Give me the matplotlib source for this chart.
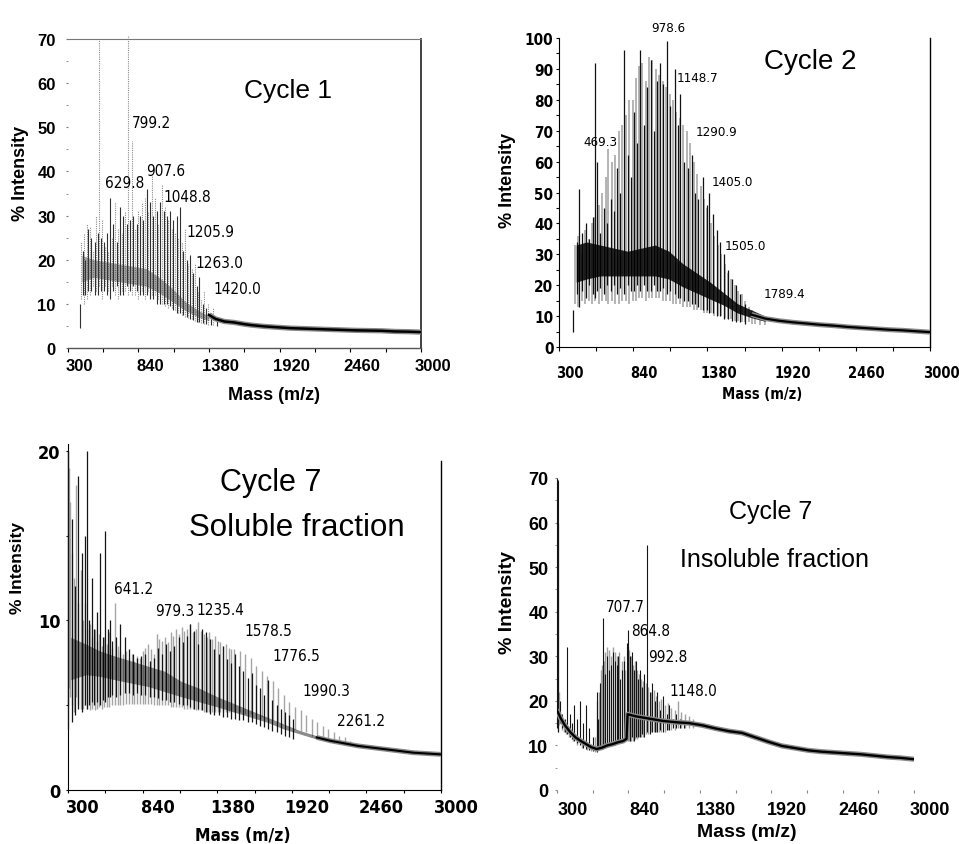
import matplotlib
matplotlib.use("Agg")
import matplotlib.pyplot as plt
from matplotlib.transforms import ScaledTranslation
from matplotlib.ticker import MultipleLocator, FixedLocator
from matplotlib import font_manager as fm
import warnings
warnings.filterwarnings("ignore")

W, H = 959, 845
ARIAL = ['Liberation Sans', 'DejaVu Sans']

xticks_major = [300, 840, 1380, 1920, 2460, 3000]
xtick_labels = ["300", "840", "1380", "1920", "2460", "3000"]

# ---------------- Cycle 1 ----------------
c1_grey_mz = [405, 425, 447, 470, 495, 518, 543, 561, 588, 612, 637, 663, 689, 714, 739, 765,
              790, 816, 841, 867, 893, 918, 943, 968, 994, 1024, 1048, 1071, 1096, 1121, 1146,
              1172, 1197, 1223, 1249, 1274, 1300, 1320, 1343, 1376, 1414]
c1_grey_top = [24, 26, 28, 27.5, 22, 30, 70, 29, 23, 22, 25, 33, 27, 26, 31, 71,
               47, 27, 31, 33, 34, 31, 39, 34, 28, 37, 32, 29, 27, 26, 25,
               24, 27, 19, 18, 19, 13, 11, 13, 10, 9]
c1_grey_bot = [11, 10, 11, 12, 14, 13, 14, 11, 14, 13, 14, 12, 11, 13, 13, 12,
               12, 12, 11, 13, 11, 13, 12, 12, 11, 10, 9.5, 9, 9, 8.5, 8,
               7.5, 7, 6.8, 6.5, 6.2, 5.9, 5.7, 5.5, 5.3, 5.1]
c1_black_mz = [395, 415, 437, 458, 482, 507, 530, 553, 575, 599, 625, 650, 676, 701, 727, 752,
               778, 803, 829, 854, 880, 905, 930, 956, 981, 1006, 1036, 1058, 1083, 1108, 1134,
               1159, 1184, 1210, 1236, 1261, 1287, 1307, 1333, 1356, 1395, 1440]
c1_black_top = [10, 22, 20, 27, 25, 24, 26, 25, 24, 26, 34, 28, 24, 32, 30, 28,
                29, 30, 28, 30, 29, 36, 33, 30, 31, 33, 31, 30, 31, 29, 30,
                32, 22, 20, 21, 17, 14, 16, 10, 9, 8, 7]
c1_black_bot = [4.5, 12, 12, 13, 13, 12, 12, 13, 13, 12, 11, 13, 14, 12, 12, 14,
                13, 14, 13, 12, 12, 12, 11, 11, 10, 10, 10, 10, 9.5, 8.5, 8,
                8, 7.5, 7, 6.5, 6.3, 6, 5.8, 5.6, 5.4, 5.2, 5.0]
c1_core_mz = [410, 500, 600, 700, 800, 900, 1000, 1100, 1200, 1300, 1380]
c1_core_low = [15, 16, 15.5, 15, 14.5, 14, 12.5, 10.5, 8.5, 7, 6.2]
c1_core_high = [21, 20, 19.5, 19, 18.5, 18, 16, 13.5, 10.5, 8.5, 7.2]
c1_tail_mz = [1380, 1430, 1500, 1570, 1650, 1700, 1800, 1900, 2000, 2100, 2200, 2300,
              2400, 2500, 2600, 2700, 2800, 2900, 3000]
c1_tail_y = [7.5, 6.6, 6.0, 5.8, 5.4, 5.2, 4.9, 4.7, 4.5, 4.4, 4.3, 4.2,
             4.1, 4.0, 3.95, 3.9, 3.75, 3.7, 3.6]
c1_labels = ["799.2", "629.8", "907.6", "1048.8", "1205.9", "1263.0", "1420.0"]

# ---------------- Cycle 2 ----------------
c2_grey_mz = [420, 440, 465, 490, 515, 540, 565, 590, 615, 640, 660, 685, 710, 735, 760, 785,
              810, 835, 860, 880, 905, 930, 955, 980, 1005, 1030, 1055, 1080, 1105, 1130,
              1155, 1180, 1205, 1230, 1255, 1280, 1305, 1330, 1355, 1380, 1405, 1430, 1455,
              1480, 1505, 1530, 1555, 1580, 1605, 1630, 1655, 1680, 1705, 1730, 1760, 1800]
c2_grey_top = [33, 36, 30, 38, 35, 40, 42, 46, 50, 55, 64, 60, 62, 70, 72, 75,
               80, 80, 87, 91, 92, 86, 94, 93, 90, 88, 86, 84, 82, 80,
               76, 74, 72, 70, 66, 60, 56, 52, 48, 45, 40, 36, 33,
               30, 27, 24, 22, 20, 18, 17, 15, 13, 12, 11, 10, 9]
c2_grey_bot = [14, 13, 15, 14, 15, 14, 15, 14, 15, 15, 14, 15, 14, 14, 15, 15,
               14, 15, 15, 16, 16, 15, 16, 16, 16, 16, 15, 15, 15, 14,
               14, 14, 13, 13, 13, 12, 12, 12, 11, 11, 11, 10, 10,
               10, 9.5, 9, 9, 8.5, 8.5, 8, 8, 8, 7.5, 7.5, 7.2, 7]
c2_black_mz = [404, 430, 445, 470, 495, 520, 545, 562, 574, 600, 625, 650, 675, 700, 720, 745,
               775, 800, 825, 846, 870, 890, 915, 940, 967, 990, 1010, 1035, 1055, 1084,
               1110, 1144, 1165, 1181, 1210, 1240, 1265, 1290, 1315, 1350, 1375, 1395, 1423,
               1450, 1475, 1500, 1530, 1560, 1590, 1620, 1650]
c2_black_top = [12, 34, 51, 37, 40, 35, 42, 92, 60, 37, 45, 40, 48, 44, 58, 50,
                96, 62, 55, 76, 66, 96, 72, 84, 93, 70, 86, 92, 85, 99,
                78, 90, 72, 82, 60, 58, 62, 50, 48, 55, 46, 50, 43,
                38, 34, 30, 25, 22, 20, 17, 14]
c2_black_bot = [5, 17, 13, 18, 16, 20, 17, 16, 18, 19, 17, 20, 18, 20, 17, 19,
                17, 20, 18, 18, 20, 18, 20, 18, 18, 20, 18, 18, 19, 17,
                18, 17, 16, 16, 15, 15, 14, 14, 13, 12, 12, 11, 11,
                10, 10, 9, 9, 8.5, 8, 8, 7.5]
c2_core_mz = [425, 500, 600, 700, 800, 900, 1000, 1100, 1200, 1300, 1400, 1500, 1600, 1700, 1800]
c2_core_low = [21, 22, 23, 23, 23, 23, 23, 22, 19.5, 17.5, 15.5, 13.5, 11, 9.5, 8.3]
c2_core_high = [33, 34, 33, 32, 31, 32, 33, 31, 27, 24, 21, 17.5, 14, 12, 10]
c2_tail_mz = [1700, 1800, 1900, 2000, 2100, 2200, 2300, 2400, 2500, 2600, 2700, 2800, 2900, 3000]
c2_tail_y = [10.5, 9.2, 8.5, 8.0, 7.6, 7.2, 6.9, 6.5, 6.2, 5.9, 5.6, 5.4, 5.1, 4.8]
c2_labels = ["978.6", "1148.7", "1290.9", "1405.0", "1505.0", "1789.4", "469.3"]

# ---------------- Cycle 7 soluble ----------------
c3_grey_mz = [300, 308, 318, 330, 345, 360, 375, 392, 410, 425, 440, 458, 475, 492, 510, 528,
              545, 562, 580, 598, 615, 640, 660, 680, 700, 720, 740, 760, 780, 800, 820, 840,
              860, 880, 900, 920, 942, 962, 982, 1002, 1022, 1042, 1062, 1082, 1102, 1122,
              1142, 1162, 1183, 1203, 1223, 1243, 1263, 1283, 1303, 1323, 1343, 1363, 1383,
              1403, 1423, 1443, 1463, 1483, 1503, 1543, 1583, 1623, 1663, 1703, 1743, 1783,
              1823, 1863, 1903, 1943, 1983, 2023, 2063, 2103, 2143, 2183, 2223, 2263, 2303, 2343]
c3_grey_top = [20, 19, 17, 14, 12.5, 18, 11, 13, 10, 11, 9.5, 9.8, 9, 9.5, 8.8, 9.2,
               8.5, 9, 8.6, 9.3, 8.4, 11, 8.5, 8.2, 8.0, 8.2, 7.8, 8.0, 7.6, 7.9, 7.8, 8.2,
               8.4, 8.6, 8.3, 8.0, 9.2, 8.9, 8.8, 9.0, 8.7, 9.3, 9.1, 9.5, 9.2, 9.6,
               9.4, 9.5, 9.8, 9.3, 9.5, 9.9, 9.4, 9.2, 9.0, 9.3, 8.9, 9.1, 8.8,
               8.7, 8.5, 8.6, 8.4, 8.3, 8.3, 8.2, 8.0, 7.8, 7.3, 7.0, 6.7, 6.4,
               6.0, 5.6, 5.2, 4.9, 4.7, 4.4, 4.2, 4.0, 3.8, 3.6, 3.4, 3.2, 3.1, 2.9]
c3_grey_bot = [5, 6, 5.5, 5, 4.6, 5.5, 5, 4.8, 4.8, 5, 4.8, 4.7, 4.8, 4.7, 4.8, 4.9,
               4.8, 4.9, 4.9, 4.9, 5, 5, 5, 5, 5, 5.1, 5.1, 5.1, 5.1, 5.1, 5.1, 5.1,
               5.1, 5.1, 5.1, 5.0, 5.0, 5.0, 5.0, 5.0, 5.0, 4.9, 4.9, 4.9, 4.9, 4.9,
               4.8, 4.8, 4.8, 4.8, 4.7, 4.7, 4.7, 4.6, 4.6, 4.6, 4.6, 4.6, 4.6,
               4.6, 4.6, 4.6, 4.6, 4.6, 4.6, 4.6, 4.5, 4.5, 4.4, 4.3, 4.2, 4.1,
               4.0, 3.9, 3.7, 3.6, 3.5, 3.4, 3.2, 3.1, 3.0, 2.95, 2.9, 2.8, 2.75, 2.7]
c3_black_mz = [302, 326, 352, 375, 399, 423, 440, 455, 471, 490, 510, 532, 550, 568, 586, 604,
               622, 650, 677, 713, 740, 770, 800, 830, 860, 890, 920, 950, 980, 1010, 1040,
               1070, 1100, 1130, 1160, 1183, 1210, 1240, 1270, 1300, 1330, 1360, 1390, 1420,
               1450, 1480, 1510, 1540, 1570, 1600, 1630, 1660, 1690, 1720, 1750, 1780, 1810,
               1840, 1870, 1900, 1930]
c3_black_top = [20, 16, 12, 18.5, 14, 15, 20, 10, 12.5, 9.5, 10.5, 14, 9, 15.3, 9.5, 10,
                8.8, 9, 9.8, 9, 8.3, 8.0, 7.8, 7.9, 8.0, 7.6, 7.8, 8.4, 8.0, 8.6, 8.2,
                8.5, 9.0, 8.7, 9.1, 9.8, 9.4, 8.6, 9.5, 9.3, 8.9, 8.3, 8.0, 8.5,
                7.7, 7.5, 8.0, 7.3, 7.0, 6.6, 6.9, 6.2, 6.0, 5.6, 6.5, 5.3, 5.0,
                4.8, 4.6, 4.4, 4.2]
c3_black_bot = [3.6, 4.0, 4.4, 4.8, 4.6, 5, 4.8, 5, 5.2, 5, 5.2, 5, 5.3, 5.2, 5.5, 5.5,
                5.6, 5.5, 5.6, 5.7, 5.7, 5.6, 5.7, 5.6, 5.6, 5.5, 5.5, 5.4, 5.3, 5.3, 5.2,
                5.2, 5.1, 5.0, 5.0, 4.9, 4.8, 4.8, 4.7, 4.6, 4.5, 4.4, 4.4, 4.3,
                4.3, 4.2, 4.2, 4.1, 4.1, 4.0, 4.0, 3.9, 3.8, 3.7, 3.6, 3.5, 3.4,
                3.3, 3.2, 3.1, 3.0]
c3_core_mz = [320, 430, 530, 640, 760, 880, 1000, 1120, 1250, 1380, 1500, 1620, 1740, 1860, 1980, 2100]
c3_core_low = [6.5, 6.8, 6.7, 6.5, 6.3, 6.1, 5.8, 5.5, 5.2, 4.9, 4.6, 4.3, 4.0, 3.6, 3.3, 3.0]
c3_core_high = [9.0, 8.6, 8.2, 7.9, 7.6, 7.3, 7.0, 6.4, 6.0, 5.5, 5.1, 4.7, 4.3, 3.9, 3.5, 3.2]
c3_tail_mz = [2100, 2200, 2300, 2400, 2500, 2600, 2700, 2800, 2900, 3000]
c3_tail_y = [3.1, 2.9, 2.75, 2.6, 2.5, 2.4, 2.3, 2.2, 2.15, 2.1]
c3_labels = ["641.2", "979.3", "1235.4", "1578.5", "1776.5", "1990.3", "2261.2"]

# ---------------- Cycle 7 insoluble ----------------
c4_grey_mz = [305, 318, 335, 352, 370, 390, 420, 455, 490, 530, 560, 590, 605, 618, 632, 640,
              652, 665, 680, 695, 710, 725, 742, 757, 772, 788, 803, 818, 835, 848, 862, 878,
              893, 908, 922, 938, 953, 970, 990, 1010, 1030, 1050, 1070, 1090, 1115, 1140,
              1165, 1190, 1215, 1240, 1270, 1300, 1330]
c4_grey_top = [60, 22, 15, 14, 13.5, 14, 13, 12, 11.5, 10.5, 10, 12, 20, 22, 27, 28,
               29, 31, 32, 31.5, 30, 32, 31, 30, 31, 29, 30, 27, 32, 31.5, 30, 28,
               29, 27, 26, 25, 24.5, 24, 23, 22, 22.5, 21, 20, 20.5, 19, 19.5,
               18.5, 18, 20, 17.5, 17, 16.5, 16]
c4_grey_bot = [13, 14.5, 13.5, 13, 12.5, 12, 11, 10, 9.5, 9, 8.7, 8.5, 9, 9.5, 10, 10,
               10, 10, 10, 10, 10.5, 10.5, 11, 11, 11, 11.5, 11.5, 12, 11, 11, 11, 11,
               11.5, 11.5, 12, 12, 12, 12.5, 12.5, 13, 13, 13, 13, 13, 13, 13.5,
               13.5, 13.5, 14, 14, 14, 14, 14]
c4_black_mz = [298, 310, 326, 340, 360, 378, 395, 412, 430, 450, 474, 495, 520, 545, 570, 600,
               612, 625, 646, 660, 675, 690, 705, 720, 735, 750, 765, 780, 795, 810, 827, 840,
               855, 870, 885, 900, 915, 930, 945, 960, 983, 1000, 1020, 1040, 1060, 1080,
               1104, 1130, 1150, 1175, 1200, 1230, 1260]
c4_black_top = [70, 69.5, 20, 17, 16, 32, 17, 15, 19, 16, 20, 15, 19, 14, 12, 22,
                16, 24, 38.5, 26, 30, 27, 28, 31, 29, 28, 30, 25, 27, 29, 33, 36,
                30, 31, 27, 29, 25, 27, 23, 26, 55, 22, 24, 20, 22, 18,
                21, 17, 19, 16, 17, 16, 15.5]
c4_black_bot = [14, 13, 15, 14, 13, 12.5, 12, 11.5, 11, 10.5, 10, 9.5, 9.2, 9, 8.8, 8.5,
                9, 9.5, 10, 10, 10, 10.5, 10, 10.5, 10, 10.5, 11, 11, 11, 12, 16, 12,
                11, 12, 11, 12, 12, 12, 12.5, 12, 13, 12.5, 13, 13, 13, 13.5,
                13, 13.5, 13.5, 14, 14, 14, 14]
c4_base_mz = [298, 330, 360, 400, 440, 480, 520, 560, 600, 640, 680, 720, 760, 800, 826,
              834, 900, 1000, 1100, 1200, 1300, 1400, 1500, 1600, 1700, 1800, 1900, 2000,
              2100, 2200, 2300, 2400, 2500, 2600, 2700, 2800, 2900, 3000]
c4_base_y = [18, 16, 14.5, 13, 11.8, 11, 10.3, 9.6, 9.2, 9.5, 10, 10.3, 10.7, 11, 11.5,
             17, 16.5, 16, 15.5, 15.2, 15, 14.5, 13.8, 13.2, 12.8, 11.8, 10.8, 9.9,
             9.4, 8.9, 8.6, 8.4, 8.2, 8.0, 7.7, 7.4, 7.2, 6.9]
c4_labels = ["707.7", "864.8", "992.8", "1148.0"]


# ---------- condensed font lookup (falls back to Liberation Sans) ----------
def _wnum(w):
    if isinstance(w, (int, float)):
        return w
    return {'bold': 700, 'heavy': 800, 'black': 900, 'semibold': 600, 'demibold': 600}.get(str(w).lower(), 400)


def find_condensed():
    reg, bold = None, None
    for f in fm.fontManager.ttflist:
        narrow = ('Narrow' in f.name or 'Condensed' in f.name or
                  str(f.stretch) in ('condensed', 'semi-condensed', 'extra-condensed'))
        if not narrow or f.style != 'normal' or 'Mono' in f.name:
            continue
        w = _wnum(f.weight)
        if w >= 650 and bold is None:
            bold = f.fname
        if w <= 500 and reg is None:
            reg = f.fname
    return reg, bold


COND_REG, COND_BOLD = find_condensed()


def fp_narrow(size, bold=False, fallback_size=None):
    path = COND_BOLD if bold else COND_REG
    if path:
        return fm.FontProperties(fname=path, size=size)
    return fm.FontProperties(family=ARIAL, weight='bold' if bold else 'normal',
                             size=fallback_size if fallback_size else size)


fig = plt.figure(figsize=(W / 100, H / 100), dpi=100)


def axes_px(x0, x1, ytop, ybot):
    return fig.add_axes([x0 / W, 1 - ybot / H, (x1 - x0) / W, (ybot - ytop) / H])


def ftext(x, y, s, **kw):
    fig.text(x / W, 1 - y / H, s, **kw)


def shift_xlabels(ax, dx):
    off = ScaledTranslation(dx / 100, 0, fig.dpi_scale_trans)
    for t in ax.xaxis.get_major_ticks():
        t.label1.set_transform(t.label1.get_transform() + off)


def draw_spectrum(ax, gm, gt, gb, bm, bt, bb, grey='#9a9a9a', black='#1a1a1a',
                  lwg=0.9, lwb=0.9, ls='solid'):
    ax.vlines(gm, gb, gt, colors=grey, linewidth=lwg, linestyles=ls, clip_on=False, zorder=2)
    ax.vlines(bm, bb, bt, colors=black, linewidth=lwb, clip_on=False, zorder=3)


def draw_tail(ax, mz, y, lw=1.8):
    ax.plot(mz, y, color='#8a8a8a', lw=lw + 2.0, zorder=4, solid_capstyle='butt')
    ax.plot(mz, y, color='black', lw=lw, zorder=5)


def set_xaxis(ax, fp, dx, pad, length):
    ax.set_xlim(300, 3000)
    ax.xaxis.set_major_locator(FixedLocator(xticks_major))
    ax.xaxis.set_minor_locator(FixedLocator([570, 1110, 1650, 2190, 2730]))
    ax.set_xticklabels(xtick_labels, fontproperties=fp)
    ax.tick_params(axis='x', which='both', direction='out', length=length, pad=pad, width=0.8)
    shift_xlabels(ax, dx)


lab_fp = fp_narrow(11, fallback_size=10)
lab_fp2 = fp_narrow(9.5, fallback_size=8.5)

# ---------- Panel 1 ----------
ax1 = axes_px(67.5, 421, 40, 349)
draw_spectrum(ax1, c1_grey_mz, c1_grey_top, c1_grey_bot, c1_black_mz, c1_black_top, c1_black_bot,
              grey='#8c8c8c', black='#303030', lwg=0.8, lwb=0.8, ls=(0, (1, 1)))
ax1.fill_between(c1_core_mz, c1_core_low, c1_core_high, color='#3a3a3a', alpha=0.45, lw=0, zorder=4)
draw_tail(ax1, c1_tail_mz, c1_tail_y, lw=1.8)
ax1.set_ylim(0, 70)
ax1.set_yticks(range(0, 80, 10))
ax1.set_yticklabels([str(v) for v in range(0, 80, 10)], fontfamily=ARIAL, fontweight='bold', fontsize=12)
ax1.yaxis.set_minor_locator(MultipleLocator(5))
ax1.tick_params(axis='y', which='both', length=1.5, color='#777777', pad=7)
set_xaxis(ax1, fm.FontProperties(family=ARIAL, weight='bold', size=12), 12, 4, 3)
ax1.spines['left'].set_visible(False)
ax1.spines['top'].set_color('#777777')
ax1.spines['top'].set_linewidth(0.8)
ax1.spines['right'].set_linewidth(1.3)
ax1.spines['right'].set_color('#333333')
ax1.spines['bottom'].set_color('#555555')
ax1.spines['bottom'].set_linewidth(1.0)
ftext(21, 173, "% Intensity", rotation=90, ha='center', va='center',
      fontfamily=ARIAL, fontweight='bold', fontsize=13)
ftext(274, 396, "Mass (m/z)", ha='center', va='center', fontfamily=ARIAL, fontweight='bold', fontsize=13)
ftext(288, 91, "Cycle 1", ha='center', va='center', fontfamily=ARIAL, fontsize=19)
c1_pos = [(132, 124), (105, 183), (146, 171), (163, 197), (186, 233), (195, 263), (213, 289)]
for s, (x, y) in zip(c1_labels, c1_pos):
    ftext(x, y, s, ha='left', va='center', fontproperties=lab_fp)

# ---------- Panel 2 ----------
ax2 = axes_px(559, 930, 39, 348)
draw_spectrum(ax2, c2_grey_mz, c2_grey_top, c2_grey_bot, c2_black_mz, c2_black_top, c2_black_bot,
              grey='#a0a0a0', black='#111111', lwg=1.1, lwb=0.9)
ax2.fill_between(c2_core_mz, c2_core_low, c2_core_high, color='black', alpha=0.85, lw=0, zorder=4)
draw_tail(ax2, c2_tail_mz, c2_tail_y, lw=1.6)
ax2.set_ylim(0, 100)
ax2.set_yticks(range(0, 110, 10))
ax2.set_yticklabels([str(v) for v in range(0, 110, 10)], fontproperties=fp_narrow(11, True, 10))
ax2.yaxis.set_minor_locator(MultipleLocator(5))
ax2.tick_params(axis='y', which='both', length=2, pad=2, width=0.8)
set_xaxis(ax2, fp_narrow(10.5, True, 9.5), 11, 10, 3)
ax2.spines['top'].set_visible(False)
ax2.spines['right'].set_linewidth(1.0)
ftext(507, 180, "% Intensity", rotation=90, ha='center', va='center',
      fontfamily=ARIAL, fontweight='bold', fontsize=13)
ftext(762, 395, "Mass (m/z)", ha='center', va='center', fontproperties=fp_narrow(10.5, True, 9.5))
ftext(810, 62, "Cycle 2", ha='center', va='center', fontfamily=ARIAL, fontsize=20)
c2_pos = [(651, 28), (677, 78), (696, 132), (712, 183), (725, 246), (764, 295), (583, 142)]
for s, (x, y) in zip(c2_labels, c2_pos):
    ftext(x, y, s, ha='left', va='center', fontproperties=lab_fp2)

# ---------- Panel 3 ----------
ax3 = axes_px(68, 441, 445, 791)
draw_spectrum(ax3, c3_grey_mz, c3_grey_top, c3_grey_bot, c3_black_mz, c3_black_top, c3_black_bot,
              grey='#a5a5a5', black='#141414', lwg=1.0, lwb=0.9)
ax3.fill_between(c3_core_mz, c3_core_low, c3_core_high, color='black', alpha=0.45, lw=0, zorder=4)
draw_tail(ax3, c3_tail_mz, c3_tail_y, lw=1.5)
ax3.set_ylim(0, 20.4)
ax3.set_yticks([0, 10, 20])
ax3.set_yticklabels(["0", "10", "20"], fontproperties=fp_narrow(13, True, 12))
ax3.yaxis.set_minor_locator(MultipleLocator(5))
ax3.tick_params(axis='y', which='both', length=1.5, pad=4, width=0.8)
set_xaxis(ax3, fp_narrow(13, True, 12), 15, 3, 2.5)
ax3.spines['top'].set_visible(False)
ax3.spines['right'].set_bounds(0, 19.4)
ax3.spines['right'].set_linewidth(1.0)
ftext(18, 568, "% Intensity", rotation=90, ha='center', va='center',
      fontfamily=ARIAL, fontweight='bold', fontsize=12.5)
ftext(243, 836, "Mass (m/z)", ha='center', va='center', fontproperties=fp_narrow(12.5, True, 12))
ftext(271, 483, "Cycle 7", ha='center', va='center', fontfamily=ARIAL, fontsize=22)
ftext(297, 528, "Soluble fraction", ha='center', va='center', fontfamily=ARIAL, fontsize=22.5)
c3_pos = [(114, 590), (155, 612), (196, 611), (244, 632), (272, 657), (302, 692), (337, 722)]
for s, (x, y) in zip(c3_labels, c3_pos):
    ftext(x, y, s, ha='left', va='center', fontproperties=lab_fp)

# ---------- Panel 4 ----------
ax4 = axes_px(557, 914, 479, 791)
draw_spectrum(ax4, c4_grey_mz, c4_grey_top, c4_grey_bot, c4_black_mz, c4_black_top, c4_black_bot,
              grey='#a0a0a0', black='#151515', lwg=1.0, lwb=0.8)
draw_tail(ax4, c4_base_mz, c4_base_y, lw=1.7)
ax4.set_ylim(0, 70)
ax4.set_yticks(range(0, 80, 10))
ax4.set_yticklabels([str(v) for v in range(0, 80, 10)], fontfamily=ARIAL, fontweight='bold', fontsize=13)
ax4.yaxis.set_minor_locator(MultipleLocator(5))
ax4.tick_params(axis='y', which='both', length=1.2, color='#888888', pad=5)
set_xaxis(ax4, fm.FontProperties(family=ARIAL, weight='bold', size=13), 16, 6, 2)
ax4.tick_params(axis='x', which='both', color='#888888')
for sp in ax4.spines.values():
    sp.set_visible(False)
ftext(507, 603, "% Intensity", rotation=90, ha='center', va='center',
      fontfamily=ARIAL, fontweight='bold', fontsize=14)
ftext(747, 833, "Mass (m/z)", ha='center', va='center', fontfamily=ARIAL, fontweight='bold', fontsize=14)
ftext(771, 512, "Cycle 7", ha='center', va='center', fontfamily=ARIAL, fontsize=18)
ftext(774, 560, "Insoluble fraction", ha='center', va='center', fontfamily=ARIAL, fontsize=18)
c4_pos = [(606, 608), (631, 632), (648, 658), (669, 692)]
for s, (x, y) in zip(c4_labels, c4_pos):
    ftext(x, y, s, ha='left', va='center', fontproperties=lab_fp)

fig.savefig("out.png", dpi=100)
